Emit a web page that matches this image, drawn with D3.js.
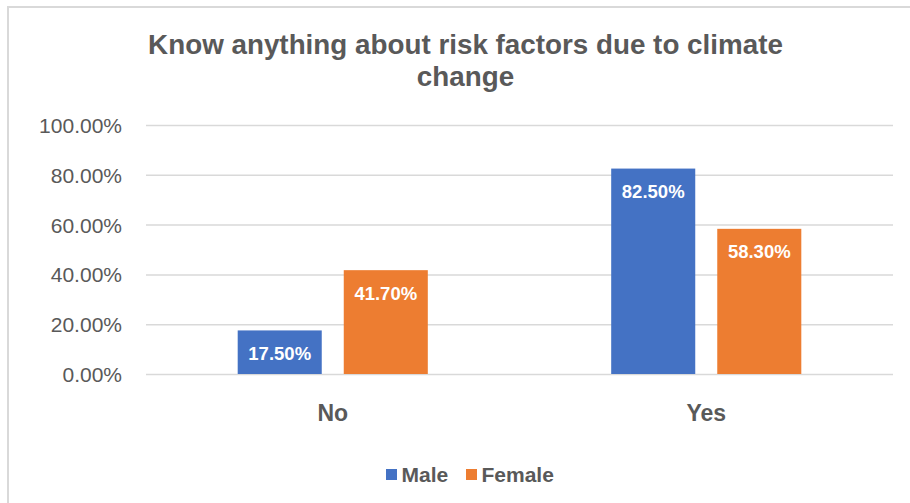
<!DOCTYPE html>
<html>
<head>
<meta charset="utf-8">
<script src="https://cdn.jsdelivr.net/npm/d3@7"></script>
<style>
  html, body { margin: 0; padding: 0; background: #ffffff; }
  svg { display: block; font-family: "Liberation Sans", Arial, sans-serif; }
</style>
</head>
<body>
<svg id="chart" width="910" height="503"></svg>
<script>
// Chart data
const titleLines = ["Know anything about risk factors due to climate", "change"];
const categories = ["No", "Yes"];
const seriesNames = ["Male", "Female"];
const maleValues = [0.175, 0.825];
const femaleValues = [0.417, 0.583];
const tickValues = [0, 0.2, 0.4, 0.6, 0.8, 1.0];
const seriesColors = ["#4472C4", "#ED7D31"];

const seriesValues = [maleValues, femaleValues];
const rows = categories.map((c, i) => ({
  category: c,
  values: seriesNames.map((s, j) => ({ series: s, value: seriesValues[j][i], idx: j }))
}));

const svg = d3.select("#chart");
const textColor = "#595959";
const gridColor = "#d9d9d9";

// Outer chart border (open on the right and bottom)
svg.append("rect")
  .attr("x", 8).attr("y", 7)
  .attr("width", 920).attr("height", 520)
  .attr("fill", "none")
  .attr("stroke", gridColor)
  .attr("stroke-width", 2);

// Title
const title = svg.append("text")
  .attr("text-anchor", "middle")
  .attr("fill", textColor)
  .attr("font-weight", "bold")
  .attr("font-size", 27.8);
titleLines.forEach((line, i) => {
  title.append("tspan").attr("x", 465.5).attr("y", 53.5 + i * 32).text(line);
});

// Scales
const plotLeft = 146, plotRight = 893, plotTop = 125, plotBottom = 374;
const y = d3.scaleLinear().domain([0, 1]).range([plotBottom, plotTop]);
const x0 = d3.scaleBand().domain(categories).range([plotLeft, plotRight]).paddingInner(0).paddingOuter(0);
const groupWidth = x0.bandwidth() * 0.509;
const x1 = d3.scaleBand().domain(seriesNames).range([0, groupWidth]).paddingInner(0.2075).paddingOuter(0);

// Gridlines and y axis labels
const yAxis = d3.axisLeft(y)
  .tickValues(tickValues)
  .tickSize(-(plotRight - plotLeft))
  .tickPadding(24)
  .tickFormat(d3.format(".2%"));
const gAxis = svg.append("g")
  .attr("transform", `translate(${plotLeft},0)`)
  .call(yAxis);
gAxis.select(".domain").remove();
gAxis.selectAll(".tick line")
  .attr("stroke", gridColor)
  .attr("stroke-width", 1.5);
gAxis.selectAll(".tick text")
  .attr("fill", textColor)
  .attr("font-size", 21)
  .attr("font-family", "\"Liberation Sans\", Arial, sans-serif")
  .attr("dy", "0.36em");

// Bars
const groups = svg.append("g").selectAll("g")
  .data(rows).join("g")
  .attr("transform", d => `translate(${x0(d.category) + (x0.bandwidth() - groupWidth) / 2},0)`);

groups.selectAll("rect")
  .data(d => d.values).join("rect")
  .attr("x", d => x1(d.series))
  .attr("y", d => y(d.value))
  .attr("width", x1.bandwidth())
  .attr("height", d => y(0) - y(d.value))
  .attr("fill", d => seriesColors[d.idx]);

// Value labels inside the bars
groups.selectAll("text.value")
  .data(d => d.values).join("text")
  .attr("class", "value")
  .attr("x", d => x1(d.series) + x1.bandwidth() / 2)
  .attr("y", d => y(d.value) + 29.5)
  .attr("text-anchor", "middle")
  .attr("fill", "#ffffff")
  .attr("font-weight", "bold")
  .attr("font-size", 18.5)
  .text(d => d3.format(".2%")(d.value));

// Category labels
svg.append("g").selectAll("text")
  .data(categories).join("text")
  .attr("x", d => x0(d) + x0.bandwidth() / 2)
  .attr("y", 420.5)
  .attr("text-anchor", "middle")
  .attr("fill", textColor)
  .attr("font-weight", "bold")
  .attr("font-size", 23)
  .text(d => d);

// Legend
const legendItems = [{ x: 386 }, { x: 466 }];
const legend = svg.append("g").selectAll("g")
  .data(seriesNames).join("g")
  .attr("transform", (d, i) => `translate(${legendItems[i].x},469)`);
legend.append("rect")
  .attr("width", 11).attr("height", 11)
  .attr("fill", (d, i) => seriesColors[i]);
legend.append("text")
  .attr("x", 15.5)
  .attr("y", 12.5)
  .attr("fill", textColor)
  .attr("font-weight", "bold")
  .attr("font-size", 21)
  .text(d => d);
</script>
</body>
</html>
